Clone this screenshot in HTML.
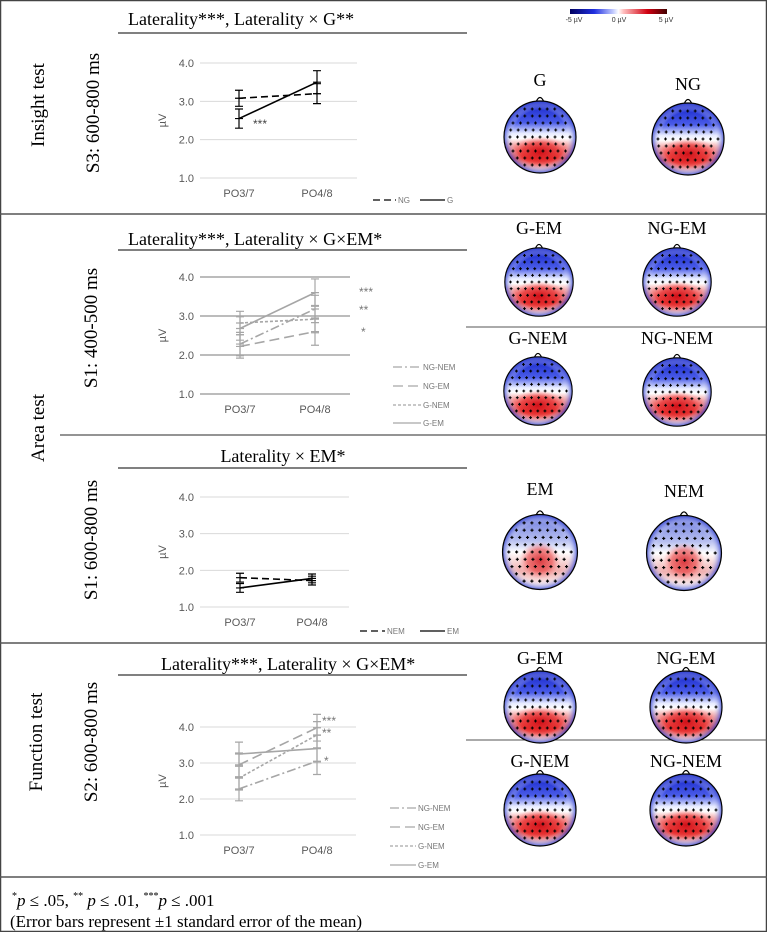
<!DOCTYPE html>
<html><head><meta charset="utf-8"><style>
body{margin:0;background:#fff}
svg{display:block}
.serif{font-family:"Liberation Serif",serif;fill:#000}
.sans{font-family:"Liberation Sans",sans-serif}
</style></head><body>
<svg id="fig" width="767" height="932" viewBox="0 0 767 932" xmlns="http://www.w3.org/2000/svg">
<defs>
<linearGradient id="scale" x1="0" x2="1" y1="0" y2="0">
<stop offset="0" stop-color="#000060"/><stop offset="0.25" stop-color="#2030e0"/><stop offset="0.45" stop-color="#c8d0ff"/><stop offset="0.5" stop-color="#fff"/><stop offset="0.55" stop-color="#ffc0c0"/><stop offset="0.8" stop-color="#d00010"/><stop offset="1" stop-color="#400000"/></linearGradient>
<linearGradient id="headStrong" x1="0" x2="0" y1="0" y2="1">
<stop offset="0" stop-color="#1020c8"/><stop offset="0.3" stop-color="#4a5ce8"/><stop offset="0.45" stop-color="#e8ecff"/><stop offset="0.52" stop-color="#fff"/><stop offset="0.62" stop-color="#f4a0a0"/><stop offset="0.8" stop-color="#e02020"/><stop offset="0.92" stop-color="#f0a0a0"/><stop offset="1" stop-color="#fff"/></linearGradient>
<linearGradient id="headWeak" x1="0" x2="0" y1="0" y2="1">
<stop offset="0" stop-color="#6a78dd"/><stop offset="0.35" stop-color="#b8c0f0"/><stop offset="0.5" stop-color="#fff"/><stop offset="0.75" stop-color="#f0b0b0"/><stop offset="1" stop-color="#fff"/></linearGradient>
<radialGradient id="blob"><stop offset="0" stop-color="#d01018"/><stop offset="0.6" stop-color="#e83030" stop-opacity="0.7"/><stop offset="1" stop-color="#ff8080" stop-opacity="0"/></radialGradient>
<radialGradient id="sideBlue" cx="0.5" cy="0.5" r="0.5"><stop offset="0.75" stop-color="#fff" stop-opacity="0"/><stop offset="1" stop-color="#3040d0" stop-opacity="0.8"/></radialGradient>
<clipPath id="c35"><circle cx="0" cy="0" r="36"/></clipPath>
</defs>

<rect x="0.5" y="0.5" width="766" height="931" fill="#fff" stroke="#444" stroke-width="1.5"/>
<line x1="0" y1="214" x2="767" y2="214" stroke="#555" stroke-width="1.5"/>
<line x1="0" y1="643" x2="767" y2="643" stroke="#555" stroke-width="1.5"/>
<line x1="0" y1="877" x2="767" y2="877" stroke="#555" stroke-width="1.5"/>
<line x1="60" y1="435" x2="767" y2="435" stroke="#555" stroke-width="1.2"/>
<line x1="466" y1="327" x2="767" y2="327" stroke="#555" stroke-width="1"/>
<line x1="466" y1="740" x2="767" y2="740" stroke="#555" stroke-width="1"/>

<text class="serif" font-size="19" transform="translate(44,105) rotate(-90)" text-anchor="middle">Insight test</text>
<text class="serif" font-size="19" transform="translate(99,113) rotate(-90)" text-anchor="middle">S3:  600-800 ms</text>
<text class="serif" font-size="19" transform="translate(44,428) rotate(-90)" text-anchor="middle">Area test</text>
<text class="serif" font-size="19" transform="translate(97,328) rotate(-90)" text-anchor="middle">S1: 400-500 ms</text>
<text class="serif" font-size="19" transform="translate(97,540) rotate(-90)" text-anchor="middle">S1: 600-800 ms</text>
<text class="serif" font-size="19" transform="translate(42,742) rotate(-90)" text-anchor="middle">Function test</text>
<text class="serif" font-size="19" transform="translate(97,742) rotate(-90)" text-anchor="middle">S2: 600-800 ms</text>

<text class="serif" font-size="18" x="128" y="25">Laterality***, Laterality × G**</text>
<line x1="118" y1="33" x2="467" y2="33" stroke="#000"/>
<text class="serif" font-size="18" x="128" y="245">Laterality***, Laterality × G×EM*</text>
<line x1="118" y1="250" x2="467" y2="250" stroke="#000"/>
<text class="serif" font-size="18" x="283" y="462" text-anchor="middle">Laterality × EM*</text>
<line x1="118" y1="468" x2="467" y2="468" stroke="#000"/>
<text class="serif" font-size="18" x="161" y="670">Laterality***, Laterality × G×EM*</text>
<line x1="118" y1="675" x2="467" y2="675" stroke="#000"/>

<rect x="570" y="9" width="97" height="5" fill="url(#scale)"/>
<text class="sans" font-size="7" x="574" y="22" text-anchor="middle" fill="#333">-5 µV</text>
<text class="sans" font-size="7" x="619" y="22" text-anchor="middle" fill="#333">0 µV</text>
<text class="sans" font-size="7" x="666" y="22" text-anchor="middle" fill="#333">5 µV</text>

<text class="serif" font-size="17" x="12" y="906"><tspan font-size="10" dy="-7">*</tspan><tspan font-style="italic" dy="7">p</tspan> ≤ .05, <tspan font-size="10" dy="-7">**</tspan><tspan font-style="italic" dy="7"> p</tspan> ≤ .01, <tspan font-size="10" dy="-7">***</tspan><tspan font-style="italic" dy="7">p</tspan> ≤ .001</text>
<text class="serif" font-size="17" x="10" y="927">(Error bars represent ±1 standard error of the mean)</text>

<g id="charts"></g>
<g id="topos"></g>
</svg>
<script>
// ---- data ----
const categories = ["PO3/7", "PO4/8"];
const yTicks = ["1.0", "2.0", "3.0", "4.0"];
const yTickValues = [1, 2, 3, 4];

const insightSeriesNames = ["NG", "G"];
const insightNG = [3.08, 3.2];
const insightNGErr = [0.21, 0.26];
const insightG = [2.55, 3.5];
const insightGErr = [0.25, 0.3];

const area1SeriesNames = ["NG-NEM", "NG-EM", "G-NEM", "G-EM"];
const area1NGNEM = [2.28, 3.18];
const area1NGEM = [2.22, 2.6];
const area1GNEM = [2.82, 2.92];
const area1GEM = [2.68, 3.6];
const area1Err = [0.3, 0.35];

const area2SeriesNames = ["NEM", "EM"];
const area2NEM = [1.8, 1.72];
const area2EM = [1.52, 1.78];
const area2Err = [0.12, 0.12];

const funcSeriesNames = ["NG-NEM", "NG-EM", "G-NEM", "G-EM"];
const funcNGNEM = [2.28, 3.05];
const funcNGEM = [2.95, 3.98];
const funcGNEM = [2.58, 3.78];
const funcGEM = [3.25, 3.4];
const funcErr = [0.33, 0.37];

const NS = "http://www.w3.org/2000/svg";
const root = document.getElementById("charts");
function mk(tag, attrs, parent) {
  const e = document.createElementNS(NS, tag);
  for (const k in attrs) e.setAttribute(k, attrs[k]);
  (parent || root).appendChild(e);
  return e;
}
const dashes = { solid: "", dash: "7,4", dot: "3,2", longdash: "10,5", dashdot: "9,3,2,3" };

function drawChart(cfg) {
  const g = mk("g", {});
  
  
  const y = v => cfg.y1 - (v - 1) * (cfg.y1 - cfg.y4) / 3;
  const x = i => cfg.xs[i];
  yTickValues.forEach((v, i) => {
    const gl = mk("line", { x1: cfg.gx0, x2: cfg.gx1, y1: y(v), y2: y(v), stroke: cfg.gridColor, "stroke-width": cfg.gridW }, g);
    
    
    const t = mk("text", { x: cfg.gx0 - 6, y: y(v) + 4, "text-anchor": "end", "font-size": 11, fill: "#595959", "font-family": "Liberation Sans, sans-serif" }, g);
    t.textContent = yTicks[i];
    
    
  });
  categories.forEach((c, i) => {
    const t = mk("text", { x: x(i), y: cfg.y1 + 19, "text-anchor": "middle", "font-size": 11, fill: "#595959", "font-family": "Liberation Sans, sans-serif" }, g);
    t.textContent = c;
    
    
  });
  const yl = mk("text", { transform: `translate(${cfg.gx0 - 34},${(y(2) + y(3)) / 2}) rotate(-90)`, "text-anchor": "middle", "font-size": 11, fill: "#595959", "font-family": "Liberation Sans, sans-serif" }, g);
  yl.textContent = "µV";
  
  
  cfg.series.forEach(s => {
    const ln = mk("line", { x1: x(0), y1: y(s.v[0]), x2: x(1), y2: y(s.v[1]), stroke: cfg.color, "stroke-width": 1.6, "stroke-dasharray": dashes[s.style] }, g);
    
    
    s.v.forEach((v, i) => {
      const e = s.e[i];
      const eb = mk("path", { d: `M${x(i)},${y(v - e)}V${y(v + e)}M${x(i) - 4},${y(v - e)}h8M${x(i) - 4},${y(v + e)}h8M${x(i) - 4},${y(v)}h8`, stroke: cfg.color, "stroke-width": 1.2, fill: "none" }, g);
      
      
    });
  });
  (cfg.stars || []).forEach(s => {
    const t = mk("text", { x: s.x, y: s.y, "font-size": 12, fill: cfg.color === "#000" ? "#444" : "#777", "font-family": "Liberation Sans, sans-serif" }, g);
    t.textContent = s.t;
    
    
  });
  cfg.legend.forEach(l => {
    const ll = mk("line", { x1: l.x, y1: l.y, x2: l.x + l.w, y2: l.y, stroke: cfg.color, "stroke-width": 1.3, "stroke-dasharray": dashes[l.style] }, g);
    
    
    const t = mk("text", { x: l.x + l.w + 2, y: l.y + 3, "font-size": 8, fill: "#777", "font-family": "Liberation Sans, sans-serif" }, g);
    t.textContent = l.t;
    
    
  });
}

drawChart({ name: "insight-chart", y1: 178, y4: 63, gx0: 200, gx1: 357, xs: [239, 317], color: "#000", gridColor: "#d9d9d9", gridW: 1,
  series: [{ key: "ng", v: insightNG, e: insightNGErr, style: "dash" }, { key: "g", v: insightG, e: insightGErr, style: "solid" }],
  stars: [{ x: 253, y: 128, t: "***" }],
  legend: [{ x: 373, y: 200, w: 23, style: "dash", t: insightSeriesNames[0] }, { x: 420, y: 200, w: 25, style: "solid", t: insightSeriesNames[1] }] });

drawChart({ name: "area1-chart", y1: 394, y4: 277, gx0: 200, gx1: 350, xs: [240, 315], color: "#a6a6a6", gridColor: "#a6a6a6", gridW: 1.6,
  series: [{ key: "ng-nem", v: area1NGNEM, e: area1Err, style: "dashdot" }, { key: "ng-em", v: area1NGEM, e: area1Err, style: "longdash" }, { key: "g-nem", v: area1GNEM, e: area1Err, style: "dot" }, { key: "g-em", v: area1GEM, e: area1Err, style: "solid" }],
  stars: [{ x: 359, y: 296, t: "***" }, { x: 359, y: 314, t: "**" }, { x: 361, y: 336, t: "*" }],
  legend: [{ x: 393, y: 367, w: 28, style: "dashdot", t: area1SeriesNames[0] }, { x: 393, y: 386, w: 28, style: "longdash", t: area1SeriesNames[1] }, { x: 393, y: 405, w: 28, style: "dot", t: area1SeriesNames[2] }, { x: 393, y: 423, w: 28, style: "solid", t: area1SeriesNames[3] }] });

drawChart({ name: "area2-chart", y1: 607, y4: 497, gx0: 200, gx1: 349, xs: [240, 312], color: "#000", gridColor: "#d9d9d9", gridW: 1,
  series: [{ key: "nem", v: area2NEM, e: area2Err, style: "dash" }, { key: "em", v: area2EM, e: area2Err, style: "solid" }],
  legend: [{ x: 360, y: 631, w: 25, style: "dash", t: area2SeriesNames[0] }, { x: 420, y: 631, w: 25, style: "solid", t: area2SeriesNames[1] }] });

drawChart({ name: "function-chart", y1: 835, y4: 727, gx0: 200, gx1: 356, xs: [239, 317], color: "#a6a6a6", gridColor: "#d9d9d9", gridW: 1,
  series: [{ key: "ng-nem", v: funcNGNEM, e: funcErr, style: "dashdot" }, { key: "ng-em", v: funcNGEM, e: funcErr, style: "longdash" }, { key: "g-nem", v: funcGNEM, e: funcErr, style: "dot" }, { key: "g-em", v: funcGEM, e: funcErr, style: "solid" }],
  stars: [{ x: 322, y: 725, t: "***" }, { x: 322, y: 737, t: "**" }, { x: 324, y: 765, t: "*" }],
  legend: [{ x: 390, y: 808, w: 26, style: "dashdot", t: funcSeriesNames[0] }, { x: 390, y: 827, w: 26, style: "longdash", t: funcSeriesNames[1] }, { x: 390, y: 846, w: 26, style: "dot", t: funcSeriesNames[2] }, { x: 390, y: 865, w: 26, style: "solid", t: funcSeriesNames[3] }] });

// ---- topomaps ----
const topoRoot = document.getElementById("topos");
function topo(cx, cy, label, ly, weak, nameKey, sc) {
  const g = mk("g", { transform: `translate(${cx},${cy}) scale(${sc})` }, topoRoot);
  
  
  mk("path", { d: "M-4,-35 Q0,-44 4,-35", fill: "#fff", stroke: "#000", "stroke-width": 1.2 }, g);
  const inner = mk("g", { "clip-path": "url(#c35)" }, g);
  mk("rect", { x: -36, y: -36, width: 72, height: 72, fill: weak ? "url(#headWeak)" : "url(#headStrong)" }, inner);
  mk("ellipse", { cx: 0, cy: weak ? 8 : 15, rx: weak ? 20 : 30, ry: weak ? 18 : 16, fill: "url(#blob)", opacity: weak ? 0.8 : 1 }, inner);
  mk("circle", { cx: 0, cy: 0, r: 36, fill: "url(#sideBlue)" }, inner);
  let d = "";
  for (let r = -28; r <= 32; r += 7) {
    const half = Math.sqrt(Math.max(0, 34 * 34 - r * r)) - 4;
    for (let c = -half; c <= half; c += 7.5) d += `M${(c - 1.5).toFixed(1)},${r}h3M${c.toFixed(1)},${r - 1.5}v3`;
  }
  mk("path", { d: d, stroke: "#000", "stroke-width": 1.1 }, inner);
  mk("circle", { cx: 0, cy: 0, r: 36, fill: "none", stroke: "#000", "stroke-width": 1.2 }, g);
  const t = mk("text", { x: cx, y: ly, "text-anchor": "middle", "font-size": 18, "font-family": "Liberation Serif, serif" }, topoRoot);
  t.textContent = label;
  
  
}
topo(540, 137, "G", 86, false, "insight-g", 1);
topo(688, 139, "NG", 90, false, "insight-ng", 1);
topo(539, 282, "G-EM", 234, false, "area-g-em", 0.95);
topo(677, 282, "NG-EM", 234, false, "area-ng-em", 0.95);
topo(538, 391, "G-NEM", 344, false, "area-g-nem", 0.95);
topo(677, 392, "NG-NEM", 344, false, "area-ng-nem", 0.95);
topo(540, 552, "EM", 495, true, "area-em", 1.04);
topo(684, 553, "NEM", 497, true, "area-nem", 1.04);
topo(540, 707, "G-EM", 664, false, "function-g-em", 1);
topo(686, 707, "NG-EM", 664, false, "function-ng-em", 1);
topo(540, 810, "G-NEM", 767, false, "function-g-nem", 1);
topo(686, 810, "NG-NEM", 767, false, "function-ng-nem", 1);
</script>
</body></html>
